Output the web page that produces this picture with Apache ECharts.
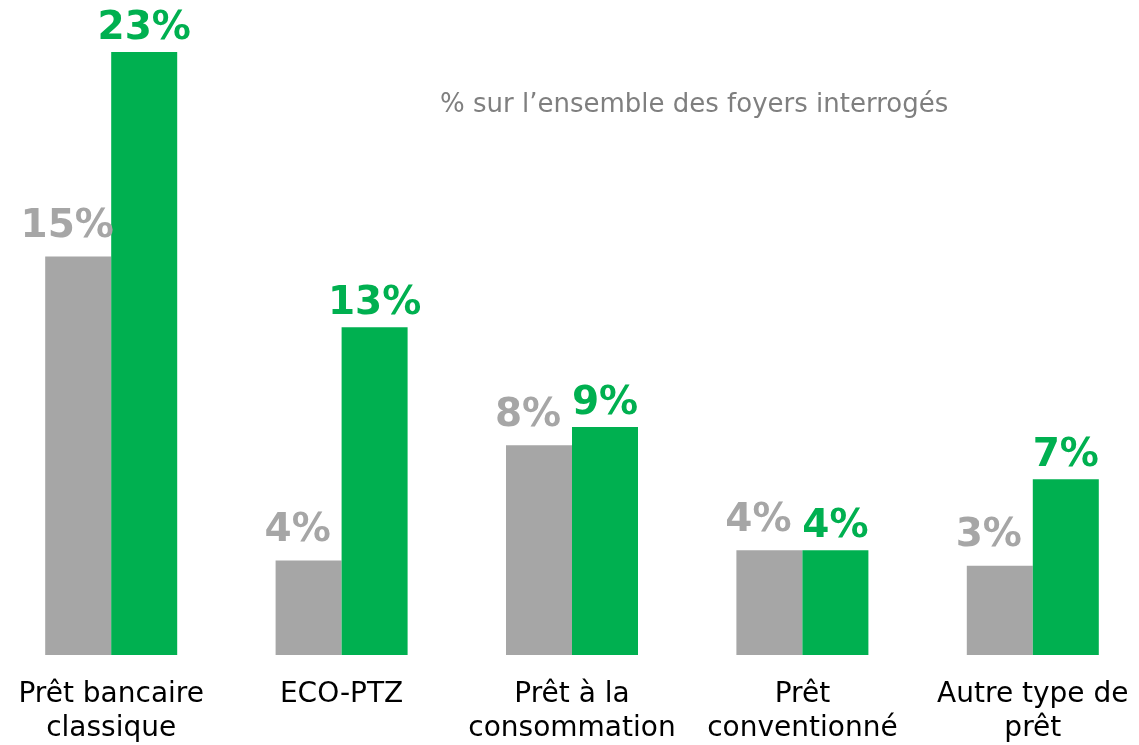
<!DOCTYPE html>
<html>
<head>
<meta charset="utf-8">
<script src="https://cdn.jsdelivr.net/npm/echarts@6/dist/echarts.min.js"></script>
<style>
  html, body { margin: 0; padding: 0; background: #fff; }
  #chart { width: 1139px; height: 745px; }
</style>
</head>
<body>
<div id="chart"></div>
<script>
const categories = [
  'Prêt bancaire\nclassique',
  'ECO-PTZ',
  'Prêt à la\nconsommation',
  'Prêt\nconventionné',
  'Autre type de\nprêt'
];
// values (labels show rounded %)
const greyValues = [15.2, 3.6, 8.0, 4.0, 3.4];
const greenValues = [23.0, 12.5, 8.7, 4.0, 6.7];

const chart = echarts.init(document.getElementById('chart'));

const fontFamily = '"DejaVu Sans", Verdana, sans-serif';

const option = {
  animation: false,
  title: {
    text: '% sur l\u2019ensemble des foyers interrogés',
    left: 435,
    top: 87,
    textStyle: {
      color: '#7f7f7f',
      fontSize: 26,
      fontWeight: 'normal',
      fontFamily: fontFamily
    }
  },
  grid: {
    left: -4,
    right: -9,
    top: 52,
    bottom: 90,
    outerBoundsMode: 'none'
  },
  xAxis: {
    type: 'category',
    data: categories,
    axisLine: { show: false },
    axisTick: { show: false },
    axisLabel: {
      color: '#000',
      fontSize: 28,
      fontFamily: fontFamily,
      lineHeight: 34,
      margin: 23,
      interval: 0
    }
  },
  yAxis: {
    type: 'value',
    min: 0,
    max: 23,
    show: false,
    splitLine: { show: false }
  },
  series: [
    {
      name: 'grey',
      type: 'bar',
      data: greyValues,
      barWidth: 66,
      barGap: '0%',
      itemStyle: { color: '#a6a6a6' },
      label: {
        show: true,
        position: 'top',
        distance: 10,
        offset: [-11, 0],
        color: '#a6a6a6',
        fontSize: 39,
        fontWeight: 'bold',
        fontFamily: fontFamily,
        formatter: p => Math.round(p.value) + '%'
      }
    },
    {
      name: 'green',
      type: 'bar',
      data: greenValues,
      barWidth: 66,
      barGap: '0%',
      itemStyle: { color: '#00b050' },
      label: {
        show: true,
        position: 'top',
        distance: 4,
        color: '#00b050',
        fontSize: 39,
        fontWeight: 'bold',
        fontFamily: fontFamily,
        formatter: p => Math.round(p.value) + '%'
      }
    }
  ]
};

chart.setOption(option);
</script>
</body>
</html>
